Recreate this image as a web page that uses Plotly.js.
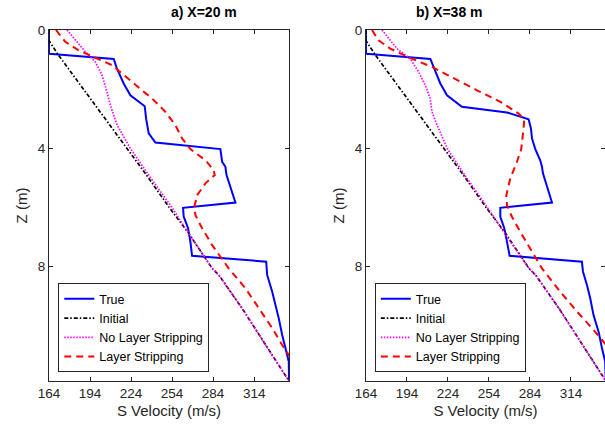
<!DOCTYPE html>
<html>
<head>
<meta charset="utf-8">
<script src="https://cdn.plot.ly/plotly-3.0.1.min.js"></script>
<style>html,body{margin:0;padding:0;background:#fff;}#chart{width:605px;height:427px;}</style>
</head>
<body>
<div id="chart"></div>
<script>
// ---- Data (velocity in m/s, depth Z in m) ----
const panelTitles = ["a) X=20 m", "b) X=38 m"];
const xTickVals = [164, 194, 224, 254, 284, 314];
const yTickVals = [0, 4, 8];
const seriesNames = ["True", "Initial", "No Layer Stripping", "Layer Stripping"];

// Initial model (same for both panels)
const initV = [164, 164, 171, 182, 193, 207, 221, 234.5, 251.5, 266.1, 283.3, 288.1, 305.2, 322.3, 339.5];
const initZ = [0, 0.36, 0.855, 1.55, 2.21, 3.1, 4.01, 4.86, 5.98, 6.88, 8.07, 8.29, 9.42, 10.66, 11.88];

// Panel a) X=20 m
const trueAV = [164, 164, 211.3, 213.7, 218.6, 223.5, 234, 235, 236.9, 241.8, 289.3, 290.6, 293, 293.7, 300.3, 262, 262.5, 265.7, 267.4, 268.6, 322.8, 323.5, 327.2, 329.1, 332, 334.5, 336.9, 339.3, 339.5];
const trueAZ = [0, 0.80, 0.98, 1.31, 1.81, 2.21, 2.58, 3.0, 3.5, 3.81, 4.03, 4.46, 4.63, 4.89, 5.84, 6.02, 6.32, 6.71, 7.17, 7.64, 7.84, 8.29, 8.86, 9.2, 9.76, 10.32, 10.77, 11.22, 11.88];
const nlsAV = [177.2, 190.6, 197.9, 202.8, 206.4, 208.9, 213.8, 223.5, 236.9, 253, 266.1, 283.3, 288.1, 305.2, 322.3, 339.5];
const nlsAZ = [0, 0.74, 1.08, 1.53, 2.1, 2.55, 3.22, 4.01, 4.91, 5.95, 6.88, 8.07, 8.29, 9.42, 10.66, 11.88];
const lsAV = [169.1, 175.9, 185.7, 197.9, 210.1, 224.7, 239.4, 249.1, 256.4, 261.3, 267.4, 278.4, 284.4, 285.2, 278.4, 272.3, 270.3, 271, 275.9, 283.3, 289.3, 295.4, 307.6, 317.4, 327.2, 334.5, 339.3, 345];
const lsAZ = [0, 0.4, 0.69, 0.95, 1.19, 1.76, 2.32, 2.77, 3.22, 3.67, 4.03, 4.41, 4.74, 4.91, 5.19, 5.59, 5.98, 6.26, 6.71, 7.28, 7.67, 8.07, 8.74, 9.42, 10.09, 10.66, 11.0, 11.4];

// Panel b) X=38 m
const trueBV = [164, 164, 211.1, 214, 218.4, 223.3, 234.2, 267.2, 283, 284.7, 285.5, 287.9, 291.5, 292.8, 293.5, 300.1, 262.3, 262.3, 265.2, 267.2, 269.1, 322, 322.8, 325.7, 328.1, 330.5, 334.2, 336.7, 339, 339.5];
const trueBZ = [0, 0.80, 0.98, 1.31, 1.81, 2.21, 2.6, 2.79, 3.02, 3.33, 3.67, 4.03, 4.41, 4.63, 4.85, 5.84, 6.02, 6.32, 6.71, 7.17, 7.64, 7.84, 8.18, 8.63, 9.08, 9.65, 10.21, 10.77, 11.22, 11.88];
const nlsBV = [175.7, 186.7, 196.4, 202.5, 207.4, 211, 212.3, 216, 223.7, 237.9, 252.5, 264.7, 283.3, 288.1, 305.2, 322.3, 339.5];
const nlsBZ = [0, 0.63, 0.97, 1.42, 1.87, 2.32, 2.77, 3.22, 4.03, 5.02, 5.98, 6.83, 8.07, 8.29, 9.42, 10.66, 11.88];
const lsBV = [168.4, 173.2, 181.8, 196.4, 212.3, 228.1, 245.2, 262.3, 275.7, 279.8, 279.3, 277.6, 274.5, 269.6, 266.7, 267.2, 270.8, 276.9, 284.2, 292.8, 306.2, 318.4, 330.5, 337.9, 345];
const lsBZ = [0, 0.35, 0.63, 0.95, 1.25, 1.64, 2.04, 2.43, 2.83, 3.02, 3.33, 4.03, 4.46, 5.02, 5.59, 5.93, 6.32, 6.83, 7.39, 8.07, 8.86, 9.53, 10.15, 10.55, 10.95];

// ---- Styles ----
const FONT = "Liberation Sans, Arial, Helvetica, sans-serif";
const AX = "#262626";
const styles = [
  {color: "#0000ff", width: 2, dash: "solid"},
  {color: "#000000", width: 1.7, dash: "4px,2px,1.5px,2px"},
  {color: "#ff00ff", width: 1.7, dash: "1.5px,1.5px"},
  {color: "#ff0000", width: 2, dash: "7px,5px"}
];

function mk(v, z, i, xa, ya, leg) {
  return {x: v, y: z, type: "scatter", mode: "lines", name: seriesNames[i],
    xaxis: xa, yaxis: ya, legend: leg, line: styles[i], hoverinfo: "skip"};
}
const traces = [
  mk(trueAV, trueAZ, 0, "x", "y", "legend"),
  mk(initV, initZ, 1, "x", "y", "legend"),
  mk(nlsAV, nlsAZ, 2, "x", "y", "legend"),
  mk(lsAV, lsAZ, 3, "x", "y", "legend"),
  mk(trueBV, trueBZ, 0, "x2", "y2", "legend2"),
  mk(initV, initZ, 1, "x2", "y2", "legend2"),
  mk(nlsBV, nlsBZ, 2, "x2", "y2", "legend2"),
  mk(lsBV, lsBZ, 3, "x2", "y2", "legend2")
];

function xax(domain, range, anchor) {
  return {domain: domain, range: range, anchor: anchor, tickvals: xTickVals,
    ticktext: xTickVals.map(String), ticks: "inside", ticklen: 4, tickcolor: AX,
    showline: true, linecolor: AX, linewidth: 1, mirror: "ticks", showgrid: false,
    zeroline: false, tickfont: {family: FONT, size: 13.5, color: AX},
    title: {text: "S Velocity (m/s)", font: {family: FONT, size: 15, color: AX}, standoff: 5}};
}
function yax(anchor) {
  return {domain: [0, 1], range: [11.88, 0], anchor: anchor, tickvals: yTickVals,
    ticks: "inside", ticklen: 4, tickcolor: AX, showline: true, linecolor: AX, linewidth: 1,
    mirror: "ticks", showgrid: false, zeroline: false,
    tickfont: {family: FONT, size: 13.5, color: AX},
    title: {text: "Z (m)", font: {family: FONT, size: 15, color: AX}, standoff: 6}};
}
const legendBase = {bordercolor: AX, borderwidth: 1, bgcolor: "#ffffff",
  font: {family: FONT, size: 12.5, color: "#000"}, xanchor: "left", yanchor: "bottom",
  tracegroupgap: 0, itemwidth: 30};

const dA = [0, 0.4317], dB = [0.5701, 1];
const layout = {
  width: 605, height: 427,
  margin: {l: 49, r: 0, t: 30, b: 46, pad: 0},
  paper_bgcolor: "#ffffff", plot_bgcolor: "#ffffff",
  showlegend: true,
  xaxis: xax(dA, [164, 339.5], "y"),
  yaxis: yax("x"),
  xaxis2: xax(dB, [164, 338.9], "y2"),
  yaxis2: yax("x2"),
  legend: Object.assign({x: 0.0167, y: 0.025}, legendBase),
  legend2: Object.assign({x: 0.586, y: 0.025}, legendBase),
  annotations: [
    {text: "<b>" + panelTitles[0] + "</b>", xref: "paper", yref: "paper",
     x: (dA[0] + dA[1]) / 2, y: 1, yanchor: "bottom", yshift: 8, showarrow: false,
     font: {family: FONT, size: 14, color: "#000"}},
    {text: "<b>" + panelTitles[1] + "</b>", xref: "paper", yref: "paper",
     x: (dB[0] + dB[1]) / 2, y: 1, yanchor: "bottom", yshift: 8, showarrow: false,
     font: {family: FONT, size: 14, color: "#000"}}
  ]
};
Plotly.newPlot("chart", traces, layout, {staticPlot: true, displayModeBar: false});
</script>
</body>
</html>
